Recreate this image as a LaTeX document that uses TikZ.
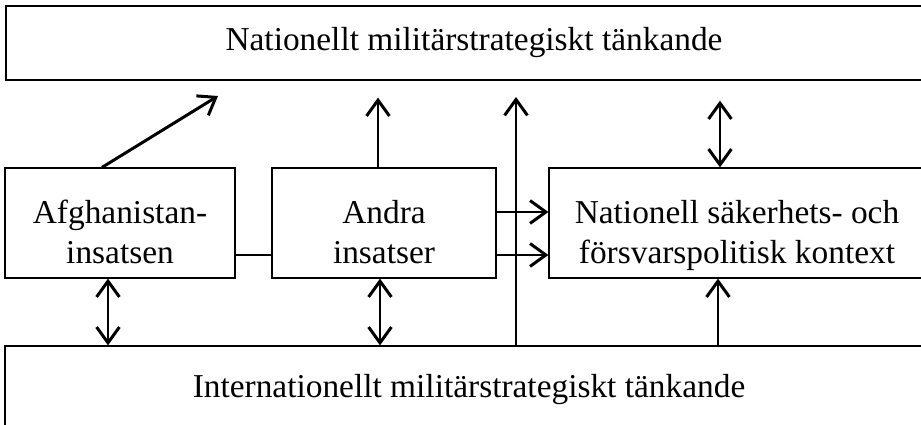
\documentclass[tikz,border=0pt]{standalone}
\usepackage{fontspec}
\setmainfont{Liberation Serif}
\usetikzlibrary{arrows.meta}

\tikzset{
  box/.style={draw, line width=0.7pt, align=center, inner sep=0pt},
  twoline/.style={text height=46pt, text depth=0pt},
  link/.style={line width=1.7pt},
  arr/.style={link, -{Straight Barb[length=9pt,width=13pt]}},
  darr/.style={link, {Straight Barb[length=9pt,width=13pt]}-{Straight Barb[length=9pt,width=13pt]}},
}

\begin{document}
\begin{tikzpicture}[x=0.02cm, y=-0.02cm, font=\fontsize{19}{22.5}\selectfont]
		\useasboundingbox (0,0) rectangle (921,425);
		\clip (0,0) rectangle (921,425);
		\node (nat) at (474,43) [box, minimum width=18.72cm, minimum height=1.48cm] {Nationellt militärstrategiskt tänkande};
		\node (afg) at (120,223) [box, twoline, minimum width=4.6cm, minimum height=2.2cm] {Afghanistan-\\insatsen};
		\node (andra) at (384,223) [box, twoline, minimum width=4.48cm, minimum height=2.2cm] {Andra\\insatser};
		\node (sak) at (737,223) [box, twoline, minimum width=7.52cm, minimum height=2.2cm] {Nationell säkerhets- och\\försvarspolitisk kontext};
		\node (intl) at (469,390) [box, minimum width=18.56cm, minimum height=1.76cm] {Internationellt militärstrategiskt tänkande};
		\coordinate (diagtip) at (218,96);
		\coordinate (longtip) at (516,97);
		\draw[arr] ([xshift=-0.36cm]afg.north) -- (diagtip);
		\draw[arr, shorten >=0.34cm] (andra.north -| 378,0) -- (nat.south -| 378,0);
		\draw[arr] (intl.north -| longtip) -- (longtip);
		\draw[darr, shorten >=0.4cm] (sak.north -| 720,0) -- (nat.south -| 720,0);
		\draw[link] (afg.east |- 0,255) -- (andra.west |- 0,255);
		\draw[arr] (andra.east |- 0,212) -- (sak.west |- 0,212);
		\draw[arr] (andra.east |- 0,255) -- (sak.west |- 0,255);
		\draw[darr] (afg.south -| 108,0) -- (intl.north -| 108,0);
		\draw[darr] (andra.south -| 380,0) -- (intl.north -| 380,0);
		\draw[arr] (intl.north -| 718,0) -- (sak.south -| 718,0);
\end{tikzpicture}
\end{document}
